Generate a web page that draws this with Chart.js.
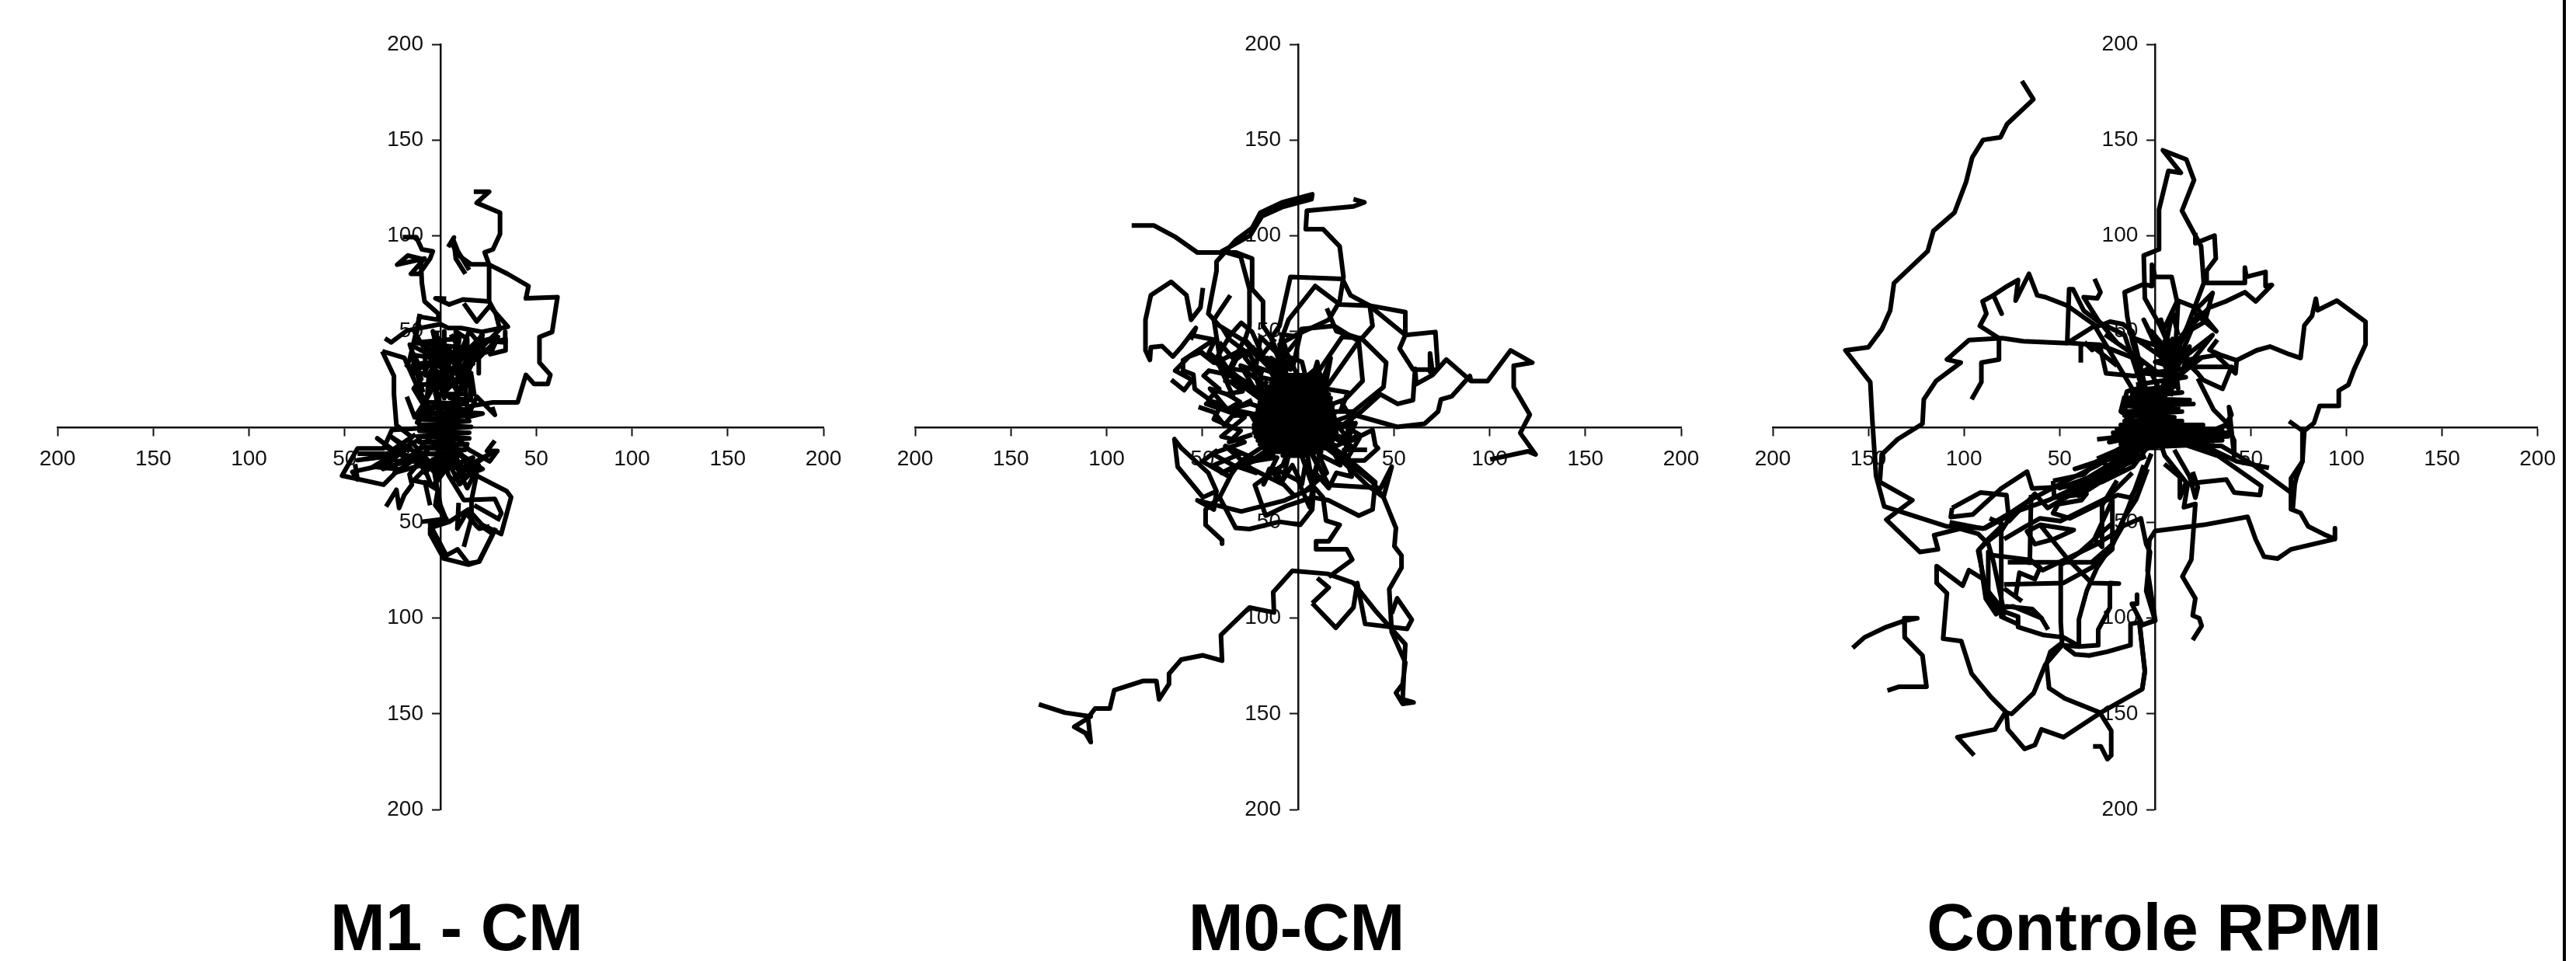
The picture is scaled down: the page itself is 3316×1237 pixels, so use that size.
<!DOCTYPE html>
<html>
<head>
<meta charset="utf-8">
<script src="https://cdn.jsdelivr.net/npm/chart.js@4/dist/chart.umd.min.js"></script>
<style>
  html, body { margin: 0; padding: 0; background: #fff; }
  body { width: 3316px; height: 1237px; position: relative; overflow: hidden; }
  canvas { position: absolute; top: 0; }
  .title { position: absolute; top: 1149px; font: bold 85px/90px "Liberation Sans", Arial, sans-serif; color: #000; transform: translateX(-50%); white-space: nowrap; }
  #edge { position: absolute; left: 3299px; top: 0; width: 4px; height: 1237px; background: #000; }
</style>
</head>
<body>
<canvas id="m1Chart"></canvas>
<canvas id="m0Chart"></canvas>
<canvas id="rpmiChart"></canvas>
<div class="title" style="left:588px">M1 - CM</div>
<div class="title" style="left:1669px">M0-CM</div>
<div class="title" style="left:2773px">Controle RPMI</div>
<div id="edge"></div>
<script>
// tick labels, same on both axes
const tickValues = [-200, -150, -100, -50, 0, 50, 100, 150, 200];

const m1Tracks = [
  [0,0, 10,20, 20,40, 31,51, 28.9,59.2, 25.4,65.6, 25.4,84.8, 23.1,91.2, 27.4,92.8, 31.1,100.8, 31.1,112, 18.9,117.1, 25.4,122.9, 17.4,122.9],
  [0,0, 16,11, 27.4,12.8, 40.3,12.8, 44.6,27.2, 48.9,22.4, 56,22.4, 57.4,27.2, 51.7,33.6, 51.7,47, 58.3,49.6, 61.1,67.8, 44.6,67.2, 46,73.6, 35,80, 25,85, 16,85, 9,90, 6,96, 7,99, 4,94],
  [13,80, 8,88, 7,97, 9,92, 15,82],
  [0,0, -5,35, -12.6,48, -11,57.6, -1.1,56, -1.1,59.2, -8.3,65.6, -9.7,75.2, -10.3,88, -17,89.6, -22.6,84.8, -8.3,88, -15.4,80, -11,80, -5.4,88, -4,91.8, -9.7,92.8, -12.6,99.2, -19.7,99.2],
  [25.4,65.6, 11.7,66.6, 4.6,64, -2.6,67.2, 3,67],
  [-29,46.3, -25.7,44.2, -17.6,50.3, 0,53.7, 4,51.7, 10.8,51.7, 21.6,49.7, 35.2,52.4, 25.7,63.2, 18.9,55.1, 12.2,64.6],
  [-30.4,39.5, -18.9,36.1, -12.2,21.2, -5,8],
  [-30.4,39.5, -24.3,26.6, -24.3,17.2, -23,0.9, -14,-6],
  [-10.8,59.1, -12.2,51.7, -16.2,34.8, -17.6,32.1, -10.8,30.7, -13.5,37.5, -4,36.1, -8.1,29.3, -2.7,22.6, 0,8],
  [33.8,49.7, 33.8,44.2, 24.3,44.9, 16.2,33.4, 13.5,26.6, 17.6,17.2, 16.2,26.6, 8,15],
  [5.4,48.3, 9.5,41.5, 14.9,41.5, 10.1,36.1, 2.7,41.5, -1.4,32.1, 5.4,34.8, 0,24, -2.7,17.2, 13.5,17.2],
  [21.6,48.3, 13.5,30.7, 8,22, 10,10],
  [-17.6,15.8, -13.5,5, -8.1,13.1, -12.2,2.3, -3,10],
  [0,0, -25.4,-1.6, -29.7,-11.3, -43.3,-11.3, -51.4,-25.5, -29.7,-30.2, -21.6,-22.1, -35.2,-20.8, -28.4,-16.7, -21.6,-18, -13.5,-14, 0,0],
  [-43.3,-14, -23,-14, -43.3,-17.4, -27,-15.3, -10,-6],
  [-44.6,-19.4, -43.3,-27.5, -46,-23.5, -30,-20, -15,-10],
  [-28.4,-41.7, -23,-32.9, -21.6,-42.4, -18.9,-35.6, -14.9,-30.2, -16.2,-24.8, -8,-15],
  [-5.4,-41, -8.1,-28.9, -1.4,-33, -2.7,-41, 2.7,-47.8, 0,-41, -3,-25, -1,-10],
  [0,0, 4,-24.8, 12.2,-38.3, 28.4,-37.7, 31.8,-45.1, 29.7,-49.2],
  [0,0, 18.9,-24.8, 16.2,-38.3, 16.2,-47.8, 12.2,-62.7],
  [9.5,-39.7, 8.8,-53.2, 13.5,-45.1, 18.9,-51.9, 20.3,-53.2, 25.7,-51.9],
  [17.6,-41, 29.7,-47.8],
  [0,0, 7.4,-17.6, 16,-24, 34.6,-33.6, 36.9,-36.8, 31.7,-56, 21.7,-51.2, 14.6,-43.2, 4.6,-49.6, -5.4,-52.8, -5.4,-56, 1.7,-68.8, 14.6,-72, 20,-70.4, 28.9,-52.8],
  [20.3,-51.2, 27.4,-56, 20.3,-70.4, 14.6,-71.4, 8.9,-64, 3.1,-67.2, -1.1,-59.2, -5.4,-51.2, 3.1,-48, -9.7,-49.6],
  [28.4,-7.2, 24.3,-12.6, 29.7,-12.6, 25.7,-18, 15,-12, 8,-5],
  [27,10.4, 28.4,6.3, 19,15.8, 14,5, 22,7, 8,8],
  [-8,13, 13,12, -9,10, 14,9, -10,7, 15,6, -10,4, 15,3, -11,1, 16,0, -11,-2, 15,-3, -12,-5, 15,-6, -11,-8, 14,-9, -10,-11, 13,-12, -8,-14, 10,-15, -4,-17, 5,-17],
  [5,40, 2,15, -3,30, 4,25, -2,45, 6,35, 10,48, 8,30, 13,20, 15,30, 16,14, 5,15, -2,24, -7,15, -6,28, 3,40, 2,18, 10,26, 5,38, -4,50, 0,33, 9,18],
  [-9,18, -13,30, -4,33, -5,20, 3,22, -1,37, 6,28, 14,40, 22,48, 19,35, 28,44, 34,46, 34,40, 26,38, 30,47, 18,44, 12,32, 14,10],
  [-5,5, -14,20, -10,25, -16,43, -2,36, -8,43, 5,24, 9,35, 15,50, 24,39, 9,42, 17,33, 7,30, 12,22],
  [0,-2, 15,-20, 26,-14, 11,-24, 7,-12, 22,-22, 6,-28, 17,-16, -3,-24, -11,-15, -5,-30, -14,-28, 1,-13],
  [-13,-4, -25,-12, -33,-6, -22,-14, -12,-16, -30,-22, -15,-8, -6,-18, -26,-5, -16,-13],
  [-14,-12, -8,-24, 2,-14, -3,-30, 6,-18, -10,-18, 12,-22, 3,-9],
  [-10,22, 14,24, -8,27, 12,30, -12,33, 10,35, -10,40, 6,42, -14,44, 8,46],
  [-6,18, -6,28, 2,28, 2,38, 10,38, 10,28, 16,28, 16,18],
  [-14,38, -14,28, -8,28, -8,40, -2,40, -2,50],
  [2,50, 2,42, 8,42, 8,50, 14,46, 14,36, 20,36, 20,28],
  [-30,-10, -10,-20, -24,-24, -6,-12],
  [4,-18, 10,-30, 20,-20, 14,-32, 8,-20]
];
const m0Tracks = [
  [0,0, 20,-15, 36,-30.4, 44.6,-36.8, 51.1,-52.8, 50.3,-62.4, 54,-67.2, 54,-73.6, 47.6,-84.8, 48.9,-107.2, 56,-123.2, 54.6,-134.4, 51.1,-139, 54.6,-144.8, 60.3,-144, 54.6,-142.4, 56,-113.6, 40.3,-96, 28.9,-81.6, 15.4,-76.8, -3,-75.2, -13,-86.4, -12.6,-97, -25.4,-94.4, -40.3,-108.8, -39.7,-122.2, -49.7,-119.4, -61,-121.6, -67.4,-129, -67.4,-134.4, -72.6,-142.4, -74,-132.8, -81.1,-132.8, -96,-137.6, -98.3,-147.2, -106,-147.2, -109.7,-152, -108.3,-164.8, -111.1,-160, -116.9,-156.8, -108.3,-151.4, -121.7,-149.4, -135.4,-145],
  [7.4,-92.2, 19.7,-105, 28.9,-94.4, 30.9,-81.6, 35,-103, 56.9,-105.6, 59.4,-100.8, 51.7,-89.6, 48.9,-97.6],
  [7.4,-92.2, 16,-84, 10,-79],
  [0,-10, 7.4,-30.4, 13,-36.8, 14.6,-49, 21.7,-51.2, 16,-59.8, 9.4,-59.8, 9.4,-64, 25.4,-64, 28.3,-69.4, 16,-78.4],
  [0,0, -5,20, -14,46.4, -18.3,52.8, -18.3,65.6, -24,72, -24,88, -32.6,91.2, -52.6,91.2, -64,99.2, -75.4,105.3, -86.9,105.3],
  [0,0, -10,30, -28,44.8, -41,52.8, -46.9,59.2, -42.6,81.6, -42.6,86.4, -32.6,97.6, -24,104, -19.7,112, -8.3,117.4, 7.4,121.6, 7,119, -8,115, -19,110, -25,100, -39.7,91.8, -30,89, -25.4,72, -25.4,52.8, -28,44.8, -20,35],
  [0,0, -5,15, -9.7,43.2, -1.1,48, 16,56, 21.7,65.6, 23.7,78.4, 21.7,94.4, 13,103.4, 4,103.4, 4.6,113, 28.9,115.2, 34.6,117.4, 28.9,119],
  [0,0, -5,25, -14,46.4, -9.7,52.8, -4,78.4, 23.1,77.4, 27.4,68.8, 37.4,63.4, 38.9,52.8, 33,46, 20,50, 15,62],
  [3,20, -9,45, -5,56, 8.9,73.6, 21.7,64, 37.4,63.4, 56,60, 56,48, 71.7,49.6, 73,30.4, 68.9,28.8, 68.9,38.4, 70,30, 60,30, 53,41, 56,48, 38.9,62],
  [10,0, 28.9,6.4, 51.7,0, 66,1.6, 73.1,8, 74.6,14.4, 80.3,16, 89.7,26.6, 90.3,24, 99,24, 111,40, 122.3,33.6, 112.6,32, 112.6,20.8, 121,6.4, 116,-3.2, 124,-14.4, 120,-12.8, 100.3,-17],
  [90.3,24, 77.4,35.2, 70.3,27.2, 61.7,22.4, 61.1,30.4, 60,14, 52,12, 43,17, 33,8, 22,0],
  [0,0, 12,8, 28.9,8, 44.6,20.8, 46,33.6, 33,46.4, 23,47, 10,28, 2,20],
  [0,0, 7,8, 24.6,14.4, 33.7,24, 31.7,44.8, 18.9,52.8, 1.7,51.2, -3,30],
  [0,0, 4.6,11.2, 16,22.4, 31.7,44.8],
  [0,0, 10,34, 12,22, 17,36, 14,20, 26,18, 22,8],
  [-49.7,72.6, -51,62.4, -55.9,56, -58.3,68.8, -66.3,75.8, -76.9,68.8, -79.7,56, -79.7,40, -77.4,35, -76.9,41.6, -71,42.2, -65.4,36.8, -61.1,41.6, -53.4,51.7, -56.1,45.6],
  [0,0, -32.6,24, -41,36.8, -44,56, -35.4,68.8],
  [-54.7,47.7, -43.9,45.6, -52,40.2, -60.1,34.8, -60.1,29.4, -54.7,27.4, -54,19.9, -46.6,14.5, -41.2,19.9, -49.3,26.7, -46.6,29.4, -37.2,27.4, -25,22, -10,14],
  [-52,40.2, -46.6,36.2, -38,30, -28,24, -18,16],
  [-66.2,24.6, -59.5,19.2, -55.4,24.6, -64.2,29.4, -56.9,36.8, -51,39, -44,33.6, -35.4,48, -29.7,54.4, -24,49.6, -16.9,33.6, -6,14],
  [-52,10.4, -43.9,7.7, -38.5,0.9, -34.4,5.7, -25,7, -22.3,2.3, -10,2],
  [-42.6,47, -46.6,38.9, -37.2,30.7, -27.7,29.4, -15,20],
  [-41.2,44.3, -33.1,34.8, -23.6,41.6, -27.7,36.1, -22.3,29.4, -19.6,47, -11.5,38.9, -4.7,40.2, 0.7,47, -8.8,48.3, -3,30],
  [-35.8,24, -29,18.6, -37.2,17.2, -30.4,13.1, -37.2,9, -25,12, -12,8],
  [-39.9,52.4, -35.8,45.6, -25,37.5, -19.6,26.7, -18.2,15.9, -10,6],
  [0,0, 10,-20, 7.4,-32, -6.9,-38.4, -29.7,-44.2, -52.6,-38.4, -44,-43.2, -42.6,-33.6, -46.9,-24, -61,-11, -64.6,-6.4, -62.9,-20.8, -49.7,-36.8, -42.6,-33.6],
  [0,0, 5,-15, 8,-33.6, 7.4,-43.2, 1.1,-51.2, -9.7,-49.6, -25.4,-53.4, -32.6,-52.8, -41,-36.8, -48.3,-43.2, -48.3,-51.2, -39.7,-59.2, -39.7,-61],
  [-41,-36.8, -35,-25, -30,-18, -15,-8, 0,0],
  [0,0, -8,-20, -22.6,-30.4, -16.9,-46.4, -6.9,-41.6, 7.4,-36.8, 16,-38.4, 31.7,-46.4, 38.9,-43.2, 40.3,-28.8, 30,-20, 15,-10],
  [0,0, 16,-30.4, 43.1,-32, 48.9,-20.8, 44.6,-36.8, 38.9,-28.8, 33,-24, 20,-14],
  [0,0, 27.4,-17.6, 34.6,-17.6, 41.7,-11.2, 40.3,-9.6, 38.9,-1.6, 26,-8, 24,-14],
  [-15,5, -48,12, -28,5, -40,-5, -28,-8, -45,-14, -34,-20, -22,-24, -38,-10, -24,-16, -40,-24, -12,-14],
  [-10,-8, -28,-20, -8,-30, -12,-22, 0,-28, 6,-42, 9,-24, 16,-32, 20,-24, 28,-26, 24,-12, 36,-12],
  [0,0, 22,-5, 30,-12, 14,-3, 30,2, 26,-6, 18,4, 32,-4, 20,-10, 12,-6],
  [-6,27, 8,27, -11,25, 13,25, -14,23, 14,23, -16,21, 15,21, -17,19, 15,19, -18,17, 16,17, -20,15, 17,15, -20,13, 17,13, -21,11, 18,11, -21,9, 18,9, -22,7, 19,7, -22,5, 19,5, -22,3, 19,3, -23,1, 20,1, -23,-1, 20,-1, -23,-3, 20,-3, -22,-5, 19,-5, -21,-7, 18,-7, -20,-9, 17,-9, -18,-11, 15,-11, -14,-13, 12,-13, -8,-15, 6,-15],
  [-5,-15, -8,-28, -3,-20, 2,-30, 4,-18, 8,-26, 11,-15, 15,-24, 3,-34, -2,-36, -15,-22, -18,-30, -11,-16, -24,-18, -14,-12],
  [-20,20, -24,32, -12,28, -16,36, -4,30, -9,38, 2,34, 4,26, 10,31, 13,24],
  [22,14, 28,4, 24,-8, 32,-6, 26,-16, 17,-10, 22,-20, 10,-14],
  [-18,28, -30,32, -24,22, -38,24, -30,40, -42,34, -34,16, -46,20, -36,8, -24,14],
  [-12,46, -20,36, -14,30, -28,46, -36,30, -22,18, -16,24],
  [-48,14, -40,12, -44,4, -30,-2, -36,-8, -24,-4],
  [-10,40, -6,30, -14,36, -10,24, -20,26],
  [-30,-14, -44,-20, -36,-26, -50,-18, -42,-12]
];
const rpmiTracks = [
  [0,0, -6,-8, -14,-13, -25,-22, -38,-30, -55,-38, -72,-44, -89,-53, -109,-52, -141.7,-41.6, -146,-25.6, -148,4.8, -149,23.4, -162,40, -150,41.6, -143,51, -138.6,60.8, -136.6,75.2, -119,91.8, -116,102.4, -105,112, -98.9,128, -95.7,140.8, -90,150, -80.9,151.4, -77.4,158.4, -63.7,171.2, -69.7,180.8],
  [0,0, 20,-10, 34.5,-9.9, 50.7,-19.4, 71,-34.3, 72,-42, 73,-30, 74,-26, 77,-18, 78,-2, 83,2, 86,11, 96,11, 96,19, 101,22, 104,30, 110,43, 110,55, 95,66, 85,61, 84,67, 82,58, 78,53, 76,36, 70,38, 60,42, 53,40, 42.6,34.8, 34.5,37.5, 28.4,40.2, 32.5,45.6],
  [70,3, 77,-2, 77,-18, 71,-27, 71,-43, 76,-45, 80,-52, 88,-56, 94,-58.6, 94,-53, 94,-58.6, 71,-64, 64,-68.8, 56.9,-67.8, 52.6,-59, 48.3,-47, 25.4,-51.2, 0,-54.4, -3,-59, -4,-75, 0,-101, -8,-104, -5.4,-127.7, -6.8,-137.1, -28.4,-149.3, -48,-162.2, -59.5,-158.1, -62.9,-166.3, -68.3,-168.3, -77.1,-158.1, -77.8,-149.3, -85.9,-141.2, -96,-129, -101.4,-112, -110.9,-110.7, -108.9,-87, -114.3,-81.6, -114.3,-72.8, -100.7,-83, -97.4,-74.9, -89.9,-79.6, -86,-92, -80,-97],
  [0,-4, 33.2,-15.3, 55.5,-30.9, 54.8,-35.6, 41.3,-34.3, 37.2,-27.5, 23.7,-28.9, 15.6,-30.2, 12.9,-37, 12.9,-26.2, 4.8,-19.4],
  [59.5,-21.4, 42.6,-18, 30,-12, 18,-8],
  [19.6,-23.5, 22.3,-31.6, 21,-37, 18,-26, 10,-12],
  [-158.2,-115.5, -152,-110, -140.6,-104.6, -131,-101.3, -124.4,-100, -131.2,-100, -131,-110, -121.7,-119.5, -119.6,-135.8, -133.9,-135.8, -140,-137.8],
  [-94.7,-171.7, -103.4,-162.2, -83.8,-158.1, -78.4,-149.3, -75,-150, -63.6,-139.2, -57.5,-124.3, -48.7,-114.1, -39.9,-114.8, -29.8,-114.1, -29.8,-106, -23.7,-94.5, -23.7,-81.6, -19,-81.9, -33.2,-81.6, -46,-68.8, -60.2,-51.2, -42.6,-53.9, -52.8,-58.6, -62.9,-61.3, -67,-54.6, -60.2,-51.2],
  [-32.5,-167, -28.4,-167, -25,-173.7, -23,-171.7, -23,-158.8, -29,-149.3, -47.3,-141.9, -55.5,-136.5, -56.8,-123.6, -54.8,-117.5, -48.7,-112.8, -49.4,-102, -49.4,-72.2, -40,-66, -22,-50],
  [-6.8,-137.1, -5.4,-127.7, -8.1,-104, 0,-101.3, -4.7,-85.7, -2.7,-65.4, -4.7,-61.3, -7.5,-47.8, -17,-51.9, -22.4,-61.3, -33.2,-70.8, -58.9,-70.8, -77.1,-70.8],
  [19.6,-111.4, 24.3,-104, 23,-100, 19.6,-98.6, 21,-89.7, 14.2,-78.2, 18.9,-69.4, 21,-40.3, 15,-42, 17,-30, 5,-15, 0,0],
  [-9.5,-87.7, -9.5,-92.5, -12.2,-92.5, -7.4,-102, -12.9,-103, -12.9,-114.1, -25,-117.5, -34.5,-119.5, -41.9,-118.9, -47.3,-114.8],
  [-56,-106, -59.5,-100, -74.4,-93.8, -80.5,-94.5, -88.6,-84.3, -92.6,-64.7, -87.9,-60, -80.5,-54.5, -73.7,-43.7, -65.6,-38.3, -50,-30, -30,-20, -12,-10],
  [0,0, -31.7,52.8, -46,43.8, -69,44.8, -80,46.4, -97.4,45.4, -108.9,35.2, -101.7,33.6, -114.6,24, -121,14.4, -121.7,1.6, -134.6,-6.4, -143,-14.4, -144,-28.8, -127,-38.3, -140.6,-48.5, -123,-65.4, -113.6,-64, -115.6,-56.6, -102,-53.2, -92.6,-55.9, -87.2,-61.3, -84.5,-70.8, -79.1,-96.5, -71.7,-99.2, -71.7,-104.6, -58.8,-108.7, -48,-110, -39,-115],
  [-39.9,-114, -39.9,-100.6, -35.8,-85.7, -30.4,-73.5, -22,-61, -14,-42, -6,-20],
  [-106.2,-42.4, -106.9,-47.1, -95.4,-45.8, -80.5,-32.2, -67,-23.4, -64.3,-32.2, -38.6,-30.9, -27.8,-28.8, -11.5,-20.7, 0,-5],
  [-106.2,-42.4, -91.3,-34.3, -77.8,-35.6, -76.4,-49.2, -62.9,-35, -56.2,-42.4, -38.6,-32.2, -25,-23.4, -4.8,-15.3],
  [-53.4,-28.2, -37.2,-24.8, -30.5,-18, -21,-15.3, -3.4,-11.2],
  [-53.4,-28.2, -52.8,-37, -35.9,-35, -38.6,-38.3, -50.7,-40.4, -53.4,-45.1, -44.7,-47.8, -19.7,-35.6, -12.9,-37, -7.5,-27.5, -2,-14],
  [-86.6,-47.8, -80.5,-50.5, -80.5,-99.2, -72,-103],
  [-87.3,-66.8, -65.6,-69.5, -58.9,-74.9, -30.5,-61.3, -19.7,-54.6, -15.6,-46.4, -10,-38, -4,-22],
  [-79.1,-82.3, -48,-81.6, -33.2,-73.5, -22.4,-64, -22.4,-38.3, -31.8,-58.6, -27.8,-62.7, -27.8,-41, -20,-28],
  [-73,-88.4, -71,-76.2, -62.9,-79.6, -60.2,-73.5, -66,-69],
  [-79.1,-84.4, -69.7,-91.1],
  [-64.9,-35.6, -65.6,-72.2],
  [-107.5,-49.8, -90,-53.2, -73.7,-43.7, -65.6,-38.3],
  [-79,-58.6, -67.6,-51.9, -60.2,-47.8, -49.4,-49.2, -25,-37, -12,-24],
  [-79,-50.5, -87.3,-58.6, -92,-64, -90,-80.3, -88.6,-89.8, -83.2,-97.9, -77.8,-93.8, -64.3,-95.2, -58.9,-100.6],
  [-87.3,-65.4, -87.3,-88.4, -79,-99.3],
  [8.3,33.6, 16.9,52.8, 25.4,75.2, 24,94.4, 14,113, 20.3,129, 16.3,139.8, 4,144.6, 13.4,132.8, 6.9,133.8, 2,113.6, 2,92.8, -6,89.6, -5.4,67.2, 2.6,52.8, 8.3,40, 0,0],
  [0,0, 8,33, 17,51, 28.3,62.4, 36.9,65.6, 46.9,70.4, 52.6,65.6, 61,74.2, 57.7,73.6, 57.7,81, 47.7,78.4, 46.9,83.2, 46.9,75.2, 26.9,75.2, 26.9,81.6, 31.7,88, 31,100, 21,96, 21,101.4],
  [0,0, -8,30, -12,45, -14.6,57.6, -16,70.4, -6,74.6, -1.7,73.6, -1.7,84.8, 0,78.4, 8.6,78.4, 11.4,65.6, 4,50, 10,40],
  [-96,14.4, -90.9,23.4, -90.9,33.6, -81.7,35.2, -81.7,46.4, -91.7,52.8, -88.3,59.2, -90.3,65.6, -84.6,68.8, -80.3,59.2, -84.6,68.8, -77.4,73.6, -71.7,76.8, -73,66, -66,80, -61.7,68.8, -57.4,67.8, -46,63.4, -30.4,52.4, -23.6,55, -16.9,53.7, -12,50, -5,20, 0,0],
  [0,0, -16,48, -28.9,54.4, -37.4,60.8, -43,72, -45,72, -46,44, -34,43, -20,32],
  [-31.7,77.4, -28.6,70.4, -30.3,67.2, -37.4,67.8, -30,56, -20,44],
  [-38.9,33.6, -38.9,43.2, -34.6,43.2, -29,42.9, -25.7,28, -10.8,26.6, -3.3,30.7, 3,18, 0,0],
  [-37,44.3, -33,40.2, -29,42.9, -11.5,36.1, -6,32],
  [-26.3,48.3, -8.8,36.1, 2,28],
  [-8.1,44.3, 2,42.9, 6,30],
  [0,0, 8,25, 14,48, 26,55, 30,70, 20,60, 32,50, 22,62, 12,66, 10,30],
  [15.6,31.4, 39.9,31.4, 35.2,19.9, 25,24.6, 22.3,28, 15.6,34.8, 31.8,37.5, 42,28, 42.6,34.8],
  [22.3,25.3, 30.5,9, 37.2,2.3, 41.3,-7.2, 41.3,-15.3, 38.6,10.4, 39.9,6.3, 36.5,0.9, 25,-4],
  [-30.4,-6.5, -18.2,-5.2, -11.5,-3.1],
  [-30.4,-16.7, -20.9,-12.6, -11.5,-7.2],
  [-16.2,13.1, -14.8,18.5, -7.4,20.6, 2,16],
  [-14.8,3.6, -16.2,13.1, -6,8],
  [-14,19, 10,21, -12,17, 14,18, -15,15, 18,14, -15,13, 20,12, -15,11, 12,10, -15,8, 14,8, -16,6, 10,5, -16,3, 14,3, -18,1, 25,1, -20,-1, 35,-1, -22,-3, 38,-3, -22,-5, 38,-5, -20,-7, 35,-7, -18,-9, 30,-9, -14,-11, 4,-11],
  [5,46, 10,22, 3,44, 12,20, 9,46, 7,20, 13,44, 4,20, 15,40, 2,18, 11,34, 8,16],
  [12,48, 9,60, 6,45, 3,56, 8,38, -2,50, 12,32, 18,42, 14,28, 24,36, 6,22],
  [-12,-8, -30,-18, -42,-22, -24,-17, -6,-10],
  [-6,-9, -36,-27, -50,-32, -28,-24, -10,-14],
  [-10,22, 16,26, -6,28, 14,30, 0,34, 12,36, 2,40, 14,42],
  [6,30, -6,56, 4,36, -10,46, 8,40, 22,58, 12,34, 30,48, 14,28],
  [-16,16, -18,8, -12,4, -16,-2, -24,-8, -14,-6],
  [-10,-12, -24,-26, -40,-36, -22,-22, -8,-14],
  [-4,-8, -20,-24, -28,-18, -16,-14]
];

const tracksByChart = { m1Chart: m1Tracks, m0Chart: m0Tracks, rpmiChart: rpmiTracks };
const boxes = { m1Chart: [0, 1105, 74], m0Chart: [1105, 1105, 73], rpmiChart: [2210, 1095, 72] };

function toPoints(flat) {
  const pts = [];
  for (let i = 0; i < flat.length; i += 2) pts.push({ x: flat[i], y: flat[i + 1] });
  return pts;
}

const tickFont = { family: '"Liberation Sans", Arial, sans-serif', size: 28 };

function axis(which) {
  return {
    type: 'linear',
    min: -200,
    max: 200,
    position: 'center',
    afterBuildTicks: function(scale) { scale.ticks = tickValues.map(v => ({ value: v })); },
    ticks: {
      color: '#111',
      font: tickFont,
      autoSkip: false,
      maxRotation: 0,
      padding: which === 'x' ? 15 : 12,
      callback: function(v) { return v === 0 ? '' : String(Math.abs(v)); }
    },
    grid: {
      drawOnChartArea: false,
      drawTicks: true,
      tickLength: 10,
      tickWidth: 2,
      tickColor: function(ctx) { return ctx.tick && ctx.tick.value === 0 ? 'rgba(0,0,0,0)' : '#111'; }
    },
    border: { display: true, color: '#111', width: 2.5 }
  };
}

Object.keys(tracksByChart).forEach(function(id) {
  const box = boxes[id];
  const canvas = document.getElementById(id);
  canvas.style.left = box[0] + 'px';
  canvas.width = box[1];
  canvas.height = 1237;
  new Chart(canvas.getContext('2d'), {
    type: 'scatter',
    data: {
      datasets: tracksByChart[id].map(function(t) {
        return {
          data: toPoints(t),
          showLine: true,
          borderColor: '#000',
          borderWidth: 6,
          borderJoinStyle: 'round',
          borderCapStyle: 'butt',
          pointRadius: 0,
          tension: 0
        };
      })
    },
    options: {
      responsive: false,
      animation: false,
      layout: { padding: { left: box[2], right: box[1] - box[2] - 986, top: 57, bottom: 195 } },
      plugins: { legend: { display: false }, tooltip: { enabled: false } },
      scales: { x: axis('x'), y: axis('y') }
    }
  });
});
</script>
</body>
</html>
